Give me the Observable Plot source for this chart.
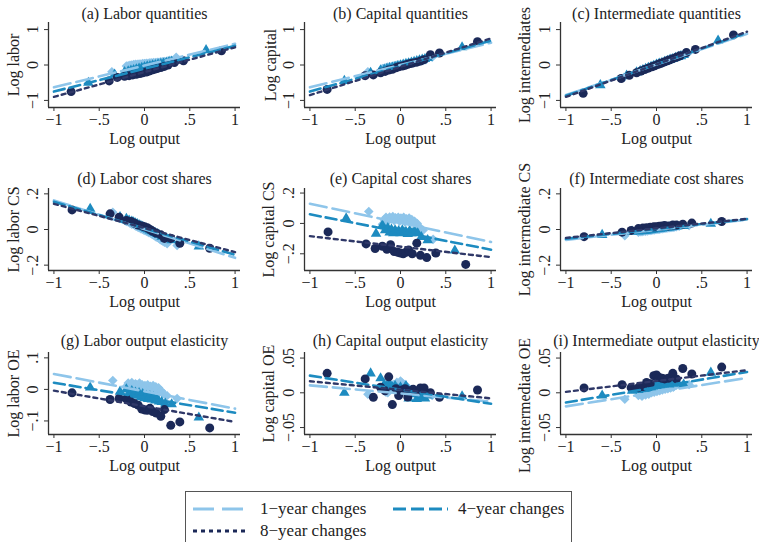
<!DOCTYPE html>
<html><head><meta charset="utf-8">
<script src="https://cdn.jsdelivr.net/npm/d3@7"></script>
<script src="https://cdn.jsdelivr.net/npm/@observablehq/plot@0.6"></script>
<style>
body{margin:0;background:#fff;}
#wrap{position:relative;width:759px;height:542px;overflow:hidden;font-family:"Liberation Serif",serif;color:#222;}
.panel{position:absolute;}
#legend{position:absolute;left:185px;top:491px;width:387px;height:60px;border:1px solid #555;box-sizing:border-box;font-size:17px;}
.item{position:absolute;white-space:nowrap;line-height:20px;}
.item svg{position:absolute;}
</style></head><body><div id="wrap"></div>
<script>
// ---- text ----
const titles = ["(a) Labor quantities","(b) Capital quantities","(c) Intermediate quantities",
  "(d) Labor cost shares","(e) Capital cost shares","(f) Intermediate cost shares",
  "(g) Labor output elasticity","(h) Capital output elasticity","(i) Intermediate output elasticity"];
const yLabels = ["Log labor","Log capital","Log intermediates","Log labor CS","Log capital CS",
  "Log intermediate CS","Log labor OE","Log capital OE","Log intermediate OE"];
const xLabel = "Log output";
const seriesNames = ["1\u2212year changes","4\u2212year changes","8\u2212year changes"];

// ---- ticks ----
const xTicks = [-1,-0.5,0,0.5,1];
const xTickLabels = ["\u22121","\u2212.5","0",".5","1"];
const yTicksQty = [-1,0,1], yTickLabelsQty = ["\u22121","0","1"];
const yTicksCS = [-0.2,0,0.2], yTickLabelsCS = ["\u2212.2","0",".2"];
const yTicksLOE = [-0.1,0,0.1], yTickLabelsLOE = ["\u2212.1","0",".1"];
const yTicksOE = [-0.05,0,0.05], yTickLabelsOE = ["\u2212.05","0",".05"];

// ---- log output (x) per series ----
const x8a = [-0.81,-0.39,-0.30,-0.22,-0.17,-0.13,-0.09,-0.05,-0.02,0.02,0.05,0.08,0.11,0.14,0.18,0.22,0.26,0.33,0.43,0.85];
const x4a = [-0.62,-0.33,-0.22,-0.18,-0.15,-0.12,-0.09,-0.06,-0.03,0.00,0.03,0.06,0.09,0.12,0.15,0.18,0.21,0.24,0.27,0.30,0.68];
const x1a = [-0.36,-0.20,-0.18,-0.16,-0.14,-0.12,-0.10,-0.08,-0.06,-0.04,-0.02,0.00,0.02,0.04,0.06,0.08,0.10,0.12,0.14,0.16,0.18,0.20,0.22,0.25,0.28,0.35];
const x8b = [-0.80,-0.38,-0.28,-0.20,-0.15,-0.11,-0.07,-0.03,0.00,0.03,0.06,0.09,0.13,0.18,0.22,0.29,0.39,0.72];
const x4b = [-0.60,-0.27,-0.20,-0.17,-0.14,-0.12,-0.10,-0.08,-0.06,-0.04,-0.02,0.00,0.02,0.04,0.06,0.08,0.10,0.12,0.14,0.16,0.19,0.23,0.30,0.60];
const x1b = [-0.35,-0.20,-0.18,-0.16,-0.14,-0.12,-0.10,-0.085,-0.07,-0.055,-0.04,-0.025,-0.01,0.005,0.02,0.035,0.05,0.065,0.08,0.095,0.11,0.125,0.14,0.155,0.17,0.185,0.20,0.22,0.25,0.36];

// ---- y values per panel (8-, 4-, 1-year) ----
const y8_a = [-0.75,-0.45,-0.35,-0.32,-0.30,-0.28,-0.26,-0.24,-0.22,-0.20,-0.17,-0.14,-0.12,-0.10,-0.07,-0.04,0.00,0.07,0.12,0.40];
const y4_a = [-0.50,-0.27,-0.20,-0.18,-0.16,-0.14,-0.12,-0.10,-0.08,-0.06,-0.04,-0.03,-0.01,0.00,0.02,0.03,0.05,0.06,0.08,0.10,0.42];
const y1_a = [-0.19,-0.03,-0.02,-0.01,0.00,0.01,0.02,0.02,0.03,0.03,0.04,0.04,0.05,0.05,0.06,0.06,0.07,0.07,0.08,0.08,0.09,0.09,0.10,0.11,0.13,0.22];
const y8_b = [-0.69,-0.30,-0.28,-0.22,-0.18,-0.14,-0.12,-0.08,-0.05,-0.03,-0.01,0.02,0.04,0.06,0.08,0.11,0.15,0.29,0.34,0.66];
const y4_b = [-0.45,-0.22,-0.15,-0.13,-0.11,-0.09,-0.07,-0.05,-0.03,-0.01,0.01,0.03,0.05,0.07,0.09,0.11,0.13,0.15,0.17,0.20,0.50];
const y1_b = [-0.19,-0.10,-0.09,-0.08,-0.06,-0.05,-0.04,-0.03,-0.02,-0.01,0.00,0.00,0.01,0.02,0.03,0.04,0.05,0.06,0.07,0.08,0.09,0.10,0.11,0.13,0.15,0.22];
const y8_c = [-0.80,-0.38,-0.29,-0.22,-0.17,-0.13,-0.09,-0.05,-0.02,0.02,0.05,0.08,0.11,0.14,0.18,0.22,0.26,0.35,0.44,0.85];
const y4_c = [-0.57,-0.30,-0.21,-0.17,-0.14,-0.11,-0.08,-0.05,-0.02,0.01,0.04,0.06,0.09,0.12,0.15,0.17,0.20,0.23,0.25,0.28,0.69];
const y1_c = [-0.35,-0.19,-0.17,-0.15,-0.13,-0.11,-0.09,-0.07,-0.05,-0.03,-0.01,0.01,0.03,0.05,0.06,0.08,0.10,0.12,0.14,0.16,0.18,0.19,0.21,0.24,0.27,0.34];
const y8_d = [0.110,0.088,0.069,0.050,0.045,0.035,0.025,0.020,0.015,0.010,0.000,-0.010,-0.020,-0.030,-0.050,-0.050,-0.077,-0.105];
const y4_d = [0.116,0.070,0.060,0.050,0.045,0.040,0.035,0.030,0.025,0.020,0.015,0.010,0.005,0.000,-0.005,-0.010,-0.015,-0.020,-0.025,-0.030,-0.040,-0.050,-0.060,-0.095];
const y1_d = [0.097,0.045,0.042,0.035,0.030,0.028,0.020,0.018,0.012,0.010,0.005,0.002,-0.002,-0.005,-0.010,-0.012,-0.018,-0.020,-0.025,-0.030,-0.035,-0.040,-0.045,-0.048,-0.055,-0.060,-0.065,-0.072,-0.080,-0.090];
const y8_e = [-0.056,-0.135,-0.165,-0.150,-0.170,-0.140,-0.185,-0.190,-0.195,-0.200,-0.190,-0.175,-0.200,-0.130,-0.210,-0.225,-0.195,-0.270];
const y4_e = [0.033,-0.067,-0.012,-0.045,-0.030,-0.060,-0.040,-0.065,-0.045,-0.060,-0.050,-0.065,-0.045,-0.060,-0.055,-0.070,-0.050,-0.065,-0.060,-0.055,-0.065,-0.090,-0.110,-0.178];
const y1_e = [0.078,-0.005,0.025,0.040,0.015,0.042,0.030,0.045,0.020,0.038,0.028,0.040,0.015,0.035,0.025,0.040,0.010,0.030,0.020,0.035,0.005,0.025,0.010,0.015,-0.005,0.000,-0.020,-0.030,-0.045,-0.105];
const y8_f = [-0.040,-0.015,-0.005,0.005,0.008,0.010,0.012,0.015,0.015,0.018,0.020,0.022,0.020,0.025,0.025,0.030,0.036,0.045];
const y4_f = [-0.030,-0.012,-0.011,-0.010,-0.008,-0.007,-0.005,-0.004,-0.002,0.000,0.001,0.002,0.004,0.005,0.006,0.008,0.009,0.010,0.012,0.013,0.015,0.017,0.020,0.032];
const y1_f = [-0.035,-0.015,-0.013,-0.012,-0.010,-0.010,-0.008,-0.006,-0.005,-0.004,-0.003,-0.002,0.000,0.000,0.002,0.002,0.004,0.005,0.006,0.007,0.008,0.009,0.010,0.011,0.012,0.013,0.014,0.016,0.018,0.022];
const y8_g = [-0.011,-0.032,-0.029,-0.030,-0.040,-0.045,-0.050,-0.062,-0.065,-0.066,-0.060,-0.070,-0.075,-0.085,-0.064,-0.114,-0.103,-0.122];
const y4_g = [0.006,-0.007,0.000,-0.012,-0.005,-0.018,-0.010,-0.020,-0.012,-0.025,-0.015,-0.028,-0.020,-0.030,-0.022,-0.032,-0.025,-0.035,-0.030,-0.038,-0.040,-0.045,-0.047,-0.089];
const y1_g = [0.028,0.010,0.020,0.012,0.022,0.008,0.018,0.015,0.005,0.020,0.010,0.015,0.002,0.012,0.008,0.015,-0.002,0.010,0.005,0.012,-0.005,0.008,0.000,0.005,-0.008,-0.004,-0.012,-0.015,-0.020,-0.029];
const y8_h = [0.028,0.020,-0.0065,0.008,0.003,0.023,-0.017,0.006,-0.004,0.004,0.006,-0.006,0.003,0.005,0.002,0.007,0.007,0.000,-0.0065,0.004];
const y4_h = [0.000,0.028,0.021,0.012,0.010,0.013,0.008,0.010,0.005,0.008,0.004,0.010,-0.008,0.003,-0.002,-0.009,0.000,-0.006,-0.008,-0.004,-0.005];
const y1_h = [-0.002,0.005,0.003,0.001,0.000,0.008,0.006,0.012,0.010,0.015,0.013,0.017,0.014,0.012,0.010,0.008,0.005,0.003,0.002,0.000,-0.003,0.000,0.002,0.003,0.000,-0.004];
const y8_i = [0.007,0.0116,0.0074,0.0074,0.009,0.015,0.013,0.0247,0.0256,0.022,0.021,0.020,0.021,0.028,0.020,0.035,0.027,0.037];
const y4_i = [-0.004,0.003,0.004,0.005,0.006,0.006,0.007,0.008,0.008,0.009,0.010,0.010,0.011,0.011,0.012,0.012,0.013,0.013,0.012,0.014,0.013,0.014,0.012,0.029];
const y1_i = [-0.0093,-0.004,-0.002,-0.005,0.000,-0.003,0.001,-0.002,0.002,0.000,0.003,0.001,0.004,0.002,0.005,0.003,0.006,0.004,0.007,0.005,0.008,0.006,0.009,0.007,0.010,0.008,0.010,0.011,0.012,0.012];

// ---- fitted lines: y at log output = -1 and = 1 (1-, 4-, 8-year) ----
const fitX = [-1, 1];
const fit_a = [[-0.63,0.60],[-0.75,0.54],[-0.90,0.50]];
const fit_b = [[-0.63,0.63],[-0.75,0.69],[-0.85,0.75]];
const fit_c = [[-0.85,0.88],[-0.87,0.91],[-0.90,0.94]];
const fit_d = [[0.163,-0.159],[0.155,-0.142],[0.144,-0.127]];
const fit_e = [[0.129,-0.122],[0.060,-0.173],[-0.084,-0.222]];
const fit_f = [[-0.058,0.055],[-0.052,0.058],[-0.047,0.060]];
const fit_g = [[0.049,-0.061],[0.021,-0.074],[-0.004,-0.103]];
const fit_h = [[0.0107,-0.0126],[0.0247,-0.0158],[0.0167,-0.008]];
const fit_i = [[-0.0195,0.0214],[-0.014,0.030],[0.0014,0.0326]];

// ---- y axis ranges ----
const yDomQty = [-1.2, 1.2], yDomCS = [-0.23, 0.23], yDomKCS = [-0.31, 0.23],
      yDomLOE = [-0.143, 0.117], yDomOE = [-0.06, 0.058];

const panels = [
  {x8:x8a,x4:x4a,x1:x1a,y8:y8_a,y4:y4_a,y1:y1_a,fit:fit_a,dom:yDomQty,ticks:yTicksQty,tl:yTickLabelsQty},
  {x8:x8a,x4:x4a,x1:x1a,y8:y8_b,y4:y4_b,y1:y1_b,fit:fit_b,dom:yDomQty,ticks:yTicksQty,tl:yTickLabelsQty},
  {x8:x8a,x4:x4a,x1:x1a,y8:y8_c,y4:y4_c,y1:y1_c,fit:fit_c,dom:yDomQty,ticks:yTicksQty,tl:yTickLabelsQty},
  {x8:x8b,x4:x4b,x1:x1b,y8:y8_d,y4:y4_d,y1:y1_d,fit:fit_d,dom:yDomCS,ticks:yTicksCS,tl:yTickLabelsCS},
  {x8:x8b,x4:x4b,x1:x1b,y8:y8_e,y4:y4_e,y1:y1_e,fit:fit_e,dom:yDomKCS,ticks:yTicksCS,tl:yTickLabelsCS},
  {x8:x8b,x4:x4b,x1:x1b,y8:y8_f,y4:y4_f,y1:y1_f,fit:fit_f,dom:yDomCS,ticks:yTicksCS,tl:yTickLabelsCS},
  {x8:x8b,x4:x4b,x1:x1b,y8:y8_g,y4:y4_g,y1:y1_g,fit:fit_g,dom:yDomLOE,ticks:yTicksLOE,tl:yTickLabelsLOE},
  {x8:x8a,x4:x4a,x1:x1a,y8:y8_h,y4:y4_h,y1:y1_h,fit:fit_h,dom:yDomOE,ticks:yTicksOE,tl:yTickLabelsOE},
  {x8:x8b,x4:x4b,x1:x1b,y8:y8_i,y4:y4_i,y1:y1_i,fit:fit_i,dom:yDomOE,ticks:yTicksOE,tl:yTickLabelsOE}
];

// ---- styling / layout ----
const c1 = "#8ec5ea", c4 = "#1d8bc0", c8 = "#1b2958", c8line = "#2f3868";
const dash1 = "17,6", dash4 = "11,5", dash8 = "4,4";
const xDom = [-1.06, 1.06];
const colM = [[48,13],[51,10],[54,7]];
const rowM = [[22,53],[28,50],[32,46]];
const titleDy = [-9,-10,-12];
const ylabX = [13,17,18,13,15,18,13,15,18];
const ylabDy = [0,0,0,0,0,0,0,0,12];
const FONT = "Liberation Serif";

const wrap = document.getElementById("wrap");
panels.forEach((p, i) => {
  const col = i % 3, row = Math.floor(i / 3);
  const [ml, mr] = colM[col], [mt, mb] = rowM[row];
  const pts = (xs, ys) => xs.map((x, j) => ({x, y: ys[j]}));
  const fl = k => fitX.map((x, j) => ({x, y: p.fit[k][j]}));
  const chart = Plot.plot({
    width: 253, height: 160,
    marginLeft: ml, marginRight: mr, marginTop: mt, marginBottom: mb,
    x: {domain: xDom},
    y: {domain: p.dom},
    style: {fontFamily: FONT, fontSize: "16px", color: "#222", background: "transparent", overflow: "visible"},
    marks: [
      Plot.ruleX([xDom[0]], {stroke: "#333", strokeWidth: 1.3}),
      Plot.ruleY([p.dom[0]], {stroke: "#333", strokeWidth: 1.3}),
      Plot.axisX(xTicks, {tickSize: 4, tickPadding: 2, label: null, stroke: "#333",
        tickFormat: d => xTickLabels[xTicks.indexOf(d)]}),
      Plot.axisY(p.ticks, {tickSize: 4, label: null, stroke: "#333", tickFormat: () => ""}),
      Plot.text(p.ticks, {y: d => d, text: d => p.tl[p.ticks.indexOf(d)], frameAnchor: "left",
        dx: -16, rotate: -90, lineAnchor: "middle", textAnchor: "middle"}),
      Plot.text([titles[i]], {text: d => d, frameAnchor: "top", dy: titleDy[row], lineAnchor: "middle"}),
      Plot.text([xLabel], {text: d => d, frameAnchor: "bottom", dy: 31, lineAnchor: "middle"}),
      Plot.text([yLabels[i]], {text: d => d, frameAnchor: "left", dx: ylabX[i] - ml, dy: ylabDy[i],
        rotate: -90, lineAnchor: "middle", textAnchor: "middle"}),
      Plot.dot(pts(p.x1, p.y1), {x: "x", y: "y", symbol: "diamond2", r: 4.3, fill: c1}),
      Plot.dot(pts(p.x4, p.y4), {x: "x", y: "y", symbol: "triangle", r: 3.9, fill: c4}),
      Plot.dot(pts(p.x8, p.y8), {x: "x", y: "y", symbol: "circle", r: 4.5, fill: c8}),
      Plot.line(fl(0), {x: "x", y: "y", stroke: c1, strokeWidth: 2.6, strokeDasharray: dash1}),
      Plot.line(fl(1), {x: "x", y: "y", stroke: c4, strokeWidth: 2.6, strokeDasharray: dash4}),
      Plot.line(fl(2), {x: "x", y: "y", stroke: c8line, strokeWidth: 2.4, strokeDasharray: dash8})
    ]
  });
  chart.classList.add("panel");
  chart.style.left = (col * 253) + "px";
  chart.style.top = (row * 160) + "px";
  chart.style.position = "absolute";
  wrap.appendChild(chart);
});

// ---- legend ----
const legend = document.createElement("div");
legend.id = "legend";
const legItems = [
  {name: seriesNames[0], color: c1, dash: "21,8", lx: 7, ly: 7, len: 50, gap: 17},
  {name: seriesNames[1], color: c4, dash: "13,5", lx: 207, ly: 7, len: 55, gap: 10},
  {name: seriesNames[2], color: c8, dash: "4,4", lx: 7, ly: 29, len: 56, gap: 11}
];
legItems.forEach(it => {
  const d = document.createElement("div");
  d.className = "item";
  d.style.left = it.lx + "px"; d.style.top = it.ly + "px";
  d.style.paddingLeft = (it.len + it.gap) + "px";
  d.innerHTML = `<svg width="${it.len}" height="20" style="left:0;top:0"><line x1="0" y1="10" x2="${it.len}" y2="10" stroke="${it.color}" stroke-width="2.8" stroke-dasharray="${it.dash}"/></svg>${it.name}`;
  legend.appendChild(d);
});
wrap.appendChild(legend);
</script>
</body></html>
